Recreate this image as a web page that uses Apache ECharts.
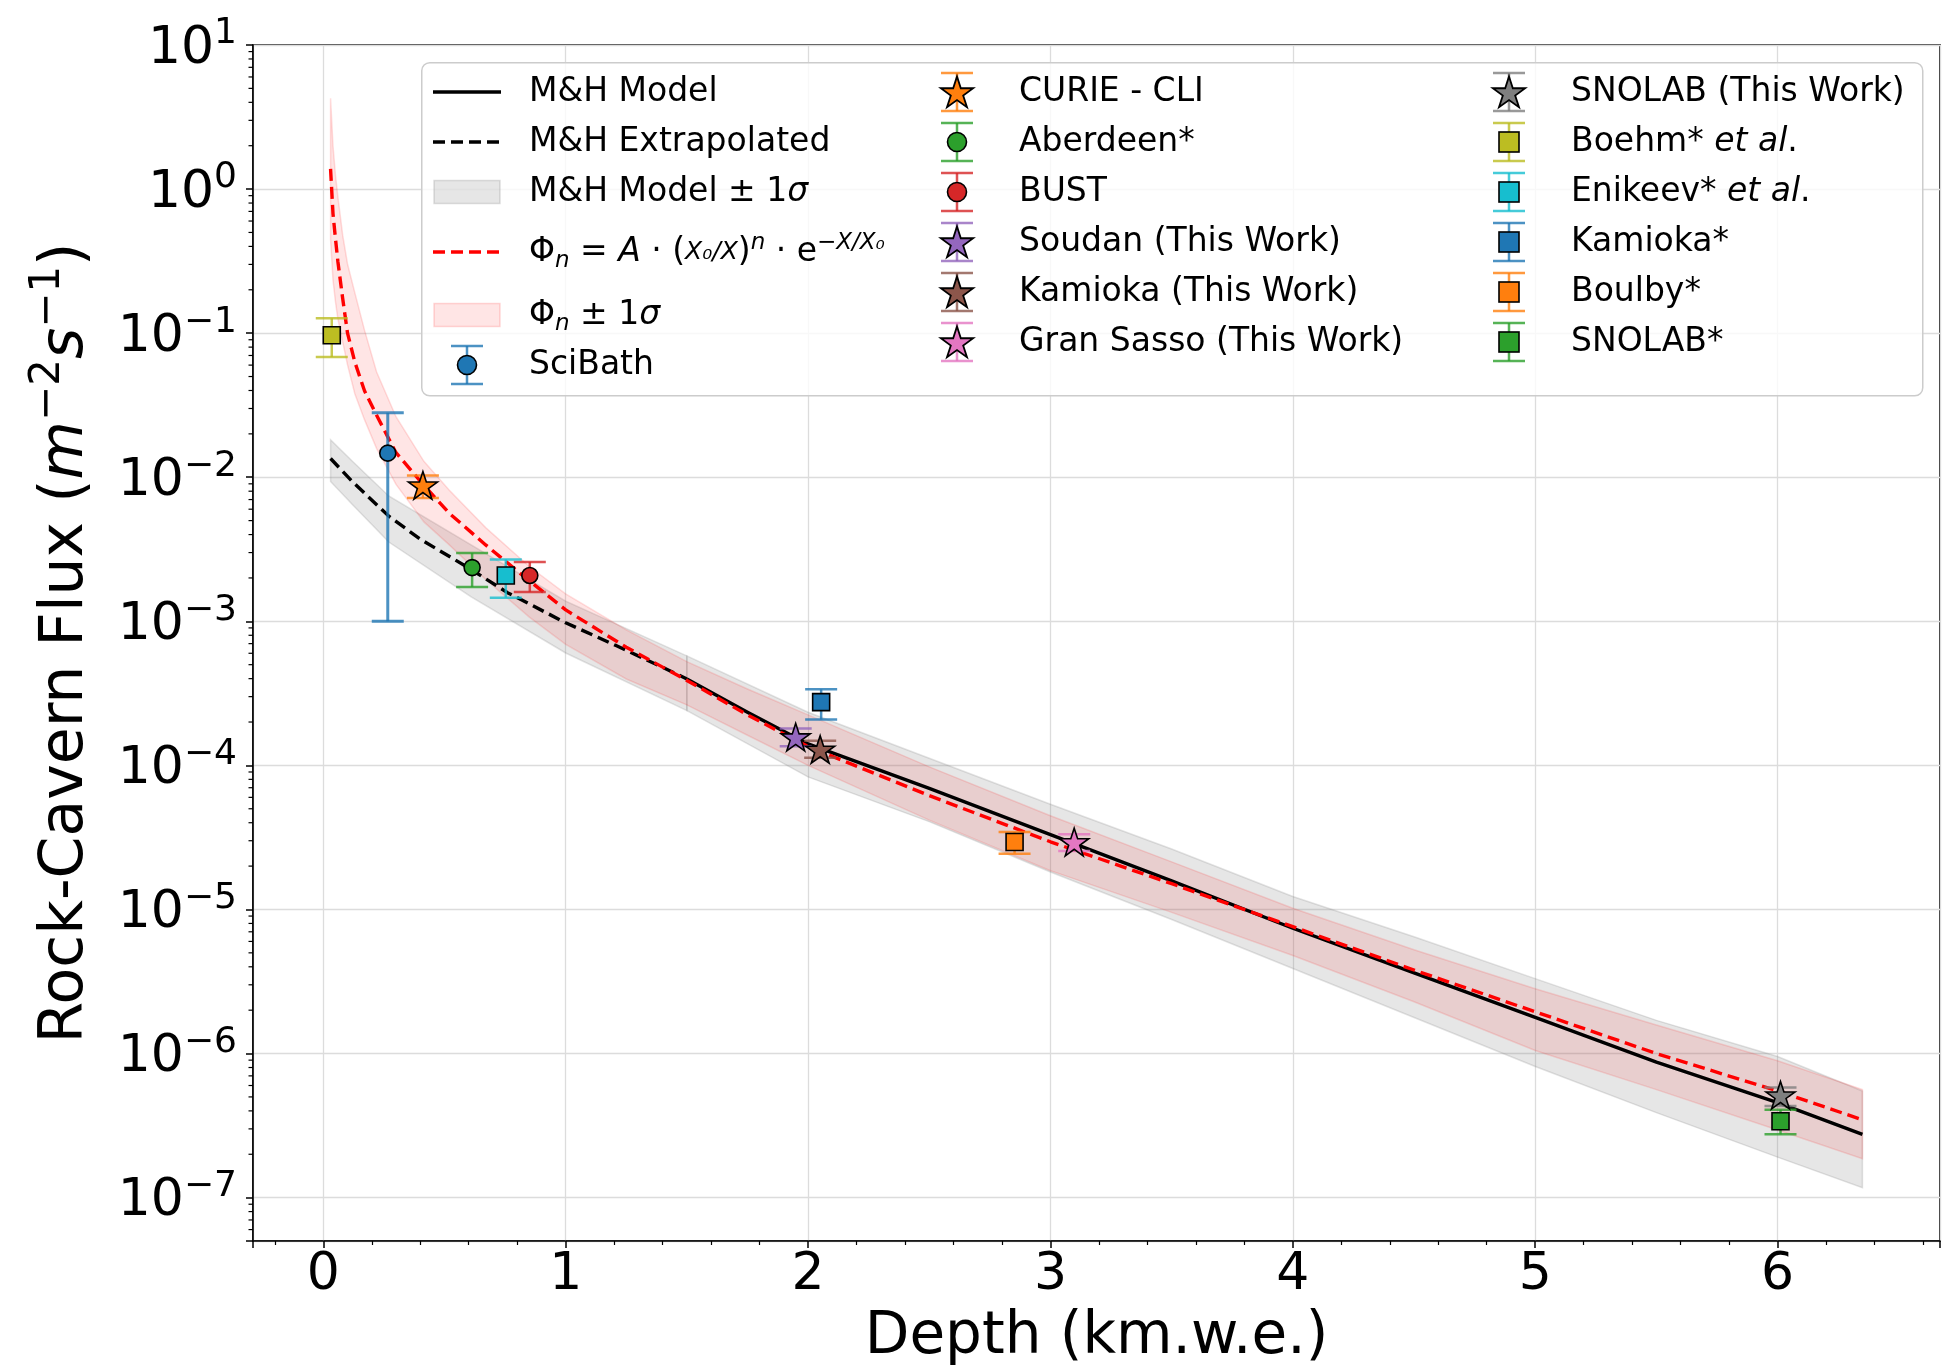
<!DOCTYPE html>
<html><head><meta charset="utf-8">
<script src="https://cdn.jsdelivr.net/npm/echarts/dist/echarts.min.js"></script>
<style>html,body{margin:0;padding:0;background:#fff}#chart{width:1942px;height:1369px}</style>
</head><body><div id="chart"></div>
<script>
// ---------------- data ----------------
const xTickLabels = ['0','1','2','3','4','5','6'];
const yTickExponents = [-7,-6,-5,-4,-3,-2,-1,0,1];

// M&H extrapolated (dashed), km.w.e. / m^-2 s^-1
const mhExtX = [0.03, 0.12, 0.27, 0.40, 0.61, 0.76, 1.00, 1.21, 1.40, 1.50];
const mhExtY = [1.349e-2, 9.33e-3, 5.37e-3, 3.72e-3, 2.29e-3, 1.58e-3, 9.77e-4, 6.76e-4, 4.79e-4, 3.98e-4];
// M&H model (solid)
const mhX = [1.50, 1.75, 2.00, 2.50, 3.00, 3.50, 4.00, 4.50, 5.00, 5.50, 6.00, 6.35];
const mhY = [3.98e-4, 2.34e-4, 1.41e-4, 6.92e-5, 3.31e-5, 1.58e-5, 7.41e-6, 3.63e-6, 1.78e-6, 8.71e-7, 4.57e-7, 2.75e-7];
// M&H +-1 sigma band, extrapolated part
const mhBandExtX = [0.03, 0.12, 0.27, 0.61, 1.00, 1.50];
const mhBandExtHi = [1.82e-2, 1.29e-2, 7.41e-3, 3.39e-3, 1.38e-3, 5.75e-4];
const mhBandExtLo = [9.33e-3, 6.46e-3, 3.55e-3, 1.48e-3, 6.03e-4, 2.40e-4];
// M&H +-1 sigma band, model part
const mhBandX = [1.50, 2.00, 2.50, 3.00, 3.50, 4.00, 4.50, 5.00, 5.50, 6.00, 6.35];
const mhBandHi = [5.75e-4, 2.34e-4, 1.12e-4, 5.37e-5, 2.63e-5, 1.23e-5, 6.46e-6, 3.31e-6, 1.70e-6, 9.55e-7, 5.50e-7];
const mhBandLo = [2.40e-4, 8.32e-5, 4.07e-5, 1.82e-5, 8.51e-6, 3.89e-6, 1.78e-6, 8.13e-7, 3.89e-7, 1.91e-7, 1.17e-7];
// Phi_n fit (red dashed) and its band
const phiX = [0.03, 0.04, 0.05, 0.06, 0.08, 0.10, 0.13, 0.17, 0.22, 0.30, 0.415, 0.52, 0.67, 0.85, 1.00, 1.25, 1.50, 1.75, 2.00, 2.50, 3.00, 3.50, 4.00, 4.50, 5.00, 5.50, 6.00, 6.35];
const phiY = [1.380, 0.676, 0.457, 0.316, 0.174, 0.100, 0.0631, 0.0398, 0.0269, 0.0148, 0.00879, 0.00562, 0.00339, 0.00191, 0.00120, 6.61e-4, 3.89e-4, 2.24e-4, 1.35e-4, 6.17e-5, 2.95e-5, 1.51e-5, 7.59e-6, 3.80e-6, 1.95e-6, 1.00e-6, 5.50e-7, 3.47e-7];
const phiHi = [4.27, 2.00, 1.26, 0.891, 0.479, 0.302, 0.191, 0.105, 0.0537, 0.0263, 0.0129, 0.00813, 0.00447, 0.00240, 0.00155, 8.71e-4, 5.25e-4, 3.39e-4, 2.24e-4, 9.77e-5, 4.47e-5, 2.14e-5, 1.02e-5, 5.25e-6, 2.82e-6, 1.58e-6, 8.91e-7, 5.62e-7];
const phiLo = [0.447, 0.234, 0.166, 0.126, 0.0871, 0.0603, 0.0380, 0.0251, 0.0158, 0.00891, 0.00490, 0.00339, 0.00195, 0.00107, 6.92e-4, 3.98e-4, 2.63e-4, 1.62e-4, 1.00e-4, 4.17e-5, 1.86e-5, 9.55e-6, 4.79e-6, 2.29e-6, 1.05e-6, 5.62e-7, 2.95e-7, 1.86e-7];

// measurements
const pointNames = ['SciBath','CURIE - CLI','Aberdeen*','BUST','Soudan (This Work)','Kamioka (This Work)','Gran Sasso (This Work)','SNOLAB (This Work)','Boehm* et al.','Enikeev* et al.','Kamioka*','Boulby*','SNOLAB*'];
const pointX    = [0.266, 0.411, 0.614, 0.852, 1.949, 2.050, 3.098, 6.012, 0.035, 0.753, 2.054, 2.852, 6.012];
const pointY    = [1.47e-2, 8.79e-3, 2.36e-3, 2.08e-3, 1.57e-4, 1.29e-4, 2.94e-5, 5.14e-7, 9.66e-2, 2.08e-3, 2.75e-4, 2.94e-5, 3.39e-7];
const pointLow  = [1.0e-3, 7.18e-3, 1.73e-3, 1.60e-3, 1.36e-4, 1.13e-4, 2.55e-5, 4.33e-7, 6.83e-2, 1.46e-3, 2.08e-4, 2.44e-5, 2.75e-7];
const pointHigh = [2.8e-2, 1.03e-2, 2.98e-3, 2.58e-3, 1.80e-4, 1.48e-4, 3.33e-5, 5.81e-7, 0.127, 2.69e-3, 3.37e-4, 3.45e-5, 4.08e-7];

// ---------------- styles ----------------
const X_MIN = -0.29, X_MAX = 6.67, Y_MIN = 5e-8, Y_MAX = 10;
const FONT = 'DejaVu Sans';
const pointStyle = {
  'SciBath': {c:'#1f77b4', m:'circle', lw:3},
  'CURIE - CLI': {c:'#ff7f0e', m:'star', lw:2.5},
  'Aberdeen*': {c:'#2ca02c', m:'circle', lw:2.5},
  'BUST': {c:'#d62728', m:'circle', lw:2.5},
  'Soudan (This Work)': {c:'#9467bd', m:'star', lw:2.5},
  'Kamioka (This Work)': {c:'#8c564b', m:'star', lw:2.5},
  'Gran Sasso (This Work)': {c:'#e377c2', m:'star', lw:2.5},
  'SNOLAB (This Work)': {c:'#7f7f7f', m:'star', lw:2.5},
  'Boehm* et al.': {c:'#bcbd22', m:'square', lw:2.5},
  'Enikeev* et al.': {c:'#17becf', m:'square', lw:2.5},
  'Kamioka*': {c:'#1f77b4', m:'square', lw:2.5},
  'Boulby*': {c:'#ff7f0e', m:'square', lw:2.5},
  'SNOLAB*': {c:'#2ca02c', m:'square', lw:2.5}
};
function rgba(hex, a){const n=parseInt(hex.slice(1),16);return 'rgba('+(n>>16)+','+((n>>8)&255)+','+(n&255)+','+a+')';}
function starPoints(cx, cy, R){const r=R*0.382;const p=[];for(let i=0;i<10;i++){const a=(-90+i*36)*Math.PI/180;const rr=i%2?r:R;p.push([cx+rr*Math.cos(a),cy+rr*Math.sin(a)]);}return p;}
const STAR_PATH = 'path://M' + starPoints(50,50,50).map(p=>p[0].toFixed(2)+','+p[1].toFixed(2)).join(' L') + ' Z';
const symbolOf = {star: STAR_PATH, circle: 'circle', square: 'rect'};
const sizeOf = {star: 29, circle: 16, square: 17};

function svgIcon(inner){return 'image://data:image/svg+xml;charset=utf-8,' + encodeURIComponent('<svg xmlns="http://www.w3.org/2000/svg" width="68" height="44" viewBox="0 0 68 44">' + inner + '</svg>');}
function markerSvg(m, c){
  if (m==='star') return '<polygon points="'+starPoints(34,23.5,17).map(p=>p[0].toFixed(2)+','+p[1].toFixed(2)).join(' ')+'" fill="'+c+'" stroke="#000" stroke-width="1.8" stroke-linejoin="miter"/>';
  if (m==='circle') return '<circle cx="34" cy="22" r="9.5" fill="'+c+'" stroke="#000" stroke-width="1.6"/>';
  return '<rect x="24" y="12" width="20" height="20" fill="'+c+'" stroke="#000" stroke-width="1.6"/>';
}
function errIcon(name){const s=pointStyle[name];const st='stroke="'+rgba(s.c,0.8)+'" stroke-width="2.5"';
  return svgIcon('<line x1="34" y1="3" x2="34" y2="41" '+st+'/><line x1="18" y1="3" x2="50" y2="3" '+st+'/><line x1="18" y1="41" x2="50" y2="41" '+st+'/>'+markerSvg(s.m,s.c));}
const ICON = {
  mh: svgIcon('<line x1="0" y1="22" x2="68" y2="22" stroke="#000" stroke-width="3.5"/>'),
  mhx: svgIcon('<line x1="0" y1="22" x2="68" y2="22" stroke="#000" stroke-width="3.5" stroke-dasharray="12 6"/>'),
  mhband: svgIcon('<rect x="1" y="10.5" width="66" height="23" fill="rgba(128,128,128,0.2)" stroke="rgba(128,128,128,0.25)" stroke-width="1.5"/>'),
  phi: svgIcon('<line x1="0" y1="22" x2="68" y2="22" stroke="#ff0000" stroke-width="3.5" stroke-dasharray="12 6"/>'),
  phiband: svgIcon('<rect x="1" y="10.5" width="66" height="23" fill="rgba(255,0,0,0.1)" stroke="rgba(255,0,0,0.15)" stroke-width="1.5"/>')
};
const legendText = {
  mh: '{n|M&H Model}',
  mhx: '{n|M&H Extrapolated}',
  mhband: '{n|M&H Model ± 1}{i|σ}',
  phi: '{n|Φ}{sub|n}{n| = }{i|A}{n| · (}{fr|X₀/X}{n|)}{supi|n}{n| · e}{supi|−X/X₀}',
  phiband: '{n|Φ}{sub|n}{n| ± 1}{i|σ}',
  'Boehm* et al.': '{n|Boehm* }{i|et al}{n|.}',
  'Enikeev* et al.': '{n|Enikeev* }{i|et al}{n|.}'
};

// ---------------- series ----------------
function bandSeries(name, xs, hi, lo, fill, stroke){
  return {type:'custom', name, z:1, silent:true, clip:true,
    data: xs.map((x,i)=>[x, hi[i], lo[i]]), encode:{x:0, y:[1,2]},
    renderItem:(params, api)=>{
      if (params.dataIndex !== 0) return null;
      const pts=[];
      for (let i=0;i<xs.length;i++) pts.push(api.coord([xs[i], hi[i]]));
      for (let i=xs.length-1;i>=0;i--) pts.push(api.coord([xs[i], lo[i]]));
      return {type:'polygon', shape:{points:pts}, style:{fill, stroke, lineWidth:1.5}};
    }};
}
function lineSeries(name, xs, ys, color, dashed, z){
  return {type:'line', name, z, silent:true, symbol:'none', showSymbol:false, smooth:false,
    data: xs.map((x,i)=>[x, ys[i]]),
    lineStyle:{color, width:3.4, type: dashed ? [12,6] : 'solid', cap:'butt', join:'round'}};
}
const series = [
  bandSeries('mhband', mhBandExtX, mhBandExtHi, mhBandExtLo, 'rgba(128,128,128,0.2)', 'rgba(128,128,128,0.22)'),
  bandSeries('mhband', mhBandX, mhBandHi, mhBandLo, 'rgba(128,128,128,0.2)', 'rgba(128,128,128,0.22)'),
  bandSeries('phiband', phiX, phiHi, phiLo, 'rgba(255,0,0,0.1)', 'rgba(255,0,0,0.13)'),
  lineSeries('mhx', mhExtX, mhExtY, '#000', true, 2),
  lineSeries('mh', mhX, mhY, '#000', false, 2),
  lineSeries('phi', phiX, phiY, '#ff0000', true, 2.5)
];
pointNames.forEach((name, i)=>{
  const s = pointStyle[name];
  series.push({type:'custom', name, z:3, silent:true,
    data:[[pointX[i], pointY[i], pointLow[i], pointHigh[i]]], encode:{x:0, y:[1,2,3]},
    renderItem:(params, api)=>{
      const lo = api.coord([api.value(0), api.value(2)]);
      const hi = api.coord([api.value(0), api.value(3)]);
      const hw = 16, st = {stroke: rgba(s.c, 0.8), lineWidth: s.lw};
      return {type:'group', children:[
        {type:'line', shape:{x1:lo[0], y1:lo[1], x2:hi[0], y2:hi[1]}, style:st},
        {type:'line', shape:{x1:lo[0]-hw, y1:lo[1], x2:lo[0]+hw, y2:lo[1]}, style:st},
        {type:'line', shape:{x1:hi[0]-hw, y1:hi[1], x2:hi[0]+hw, y2:hi[1]}, style:st}
      ]};
    }});
  series.push({type:'scatter', name, z:4, silent:true,
    data:[[pointX[i], pointY[i]]], symbol: symbolOf[s.m], symbolSize: sizeOf[s.m], symbolKeepAspect:true,
    itemStyle:{color:s.c, borderColor:'#000', borderWidth:1.6, opacity:1}});
});
// log minor ticks on the y axis
const yMinorTicks = [];
for (let n=-8;n<=0;n++) for (let k=2;k<=9;k++){const v=k*Math.pow(10,n); if (v>Y_MIN && v<Y_MAX) yMinorTicks.push(v);}
series.push({type:'custom', silent:true, clip:false, z:6, data: yMinorTicks.map(v=>[X_MIN, v]), encode:{x:0,y:1},
  renderItem:(p, api)=>{const c=api.coord([api.value(0), api.value(1)]);
    return {type:'line', shape:{x1:c[0]-4.5, y1:c[1], x2:c[0], y2:c[1]}, style:{stroke:'#000', lineWidth:1.2}};}});

// ---------------- legend ----------------
const legendRich = {
  n:{fontFamily:FONT, fontSize:33, lineHeight:44, color:'#000'},
  i:{fontFamily:FONT, fontSize:33, lineHeight:44, color:'#000', fontStyle:'italic'},
  sub:{fontFamily:FONT, fontSize:23, lineHeight:23, padding:[18,0,0,0], color:'#000', fontStyle:'italic'},
  supi:{fontFamily:FONT, fontSize:23, lineHeight:23, padding:[0,0,18,0], color:'#000', fontStyle:'italic'},
  fr:{fontFamily:FONT, fontSize:25, lineHeight:44, color:'#000', fontStyle:'italic'}
};
function legend(left, top, names){
  return {orient:'vertical', left, top, padding:0, itemGap:6, itemWidth:68, itemHeight:44, selectedMode:false, z:10,
    data: names.map(n=>({name:n, icon: ICON[n] || errIcon(n)})),
    formatter: n => legendText[n] || ('{n|' + n + '}'),
    textStyle:{fontFamily:FONT, fontSize:33, color:'#000', padding:[0,0,0,23], rich: legendRich}};
}

const option = {
  animation:false,
  backgroundColor:'#fff',
  grid:{left:253, right:2, top:45, bottom:128, show:true, borderColor:'#000', borderWidth:1.6, backgroundColor:'transparent', containLabel:false, outerBoundsMode:'none'},
  xAxis:{type:'value', min:X_MIN, max:X_MAX, splitNumber:7,
    name:'Depth (km.w.e.)', nameLocation:'middle', nameGap:68,
    nameTextStyle:{fontFamily:FONT, fontSize:58, lineHeight:58, color:'#000'},
    axisLine:{show:true, onZero:false, lineStyle:{color:'#000', width:1.6}},
    axisTick:{show:true, inside:false, length:7, lineStyle:{color:'#000', width:1.5}},
    minorTick:{show:true, splitNumber:5, length:4, lineStyle:{color:'#000', width:1.2}},
    splitLine:{show:true, lineStyle:{color:'#dcdcdc', width:1.3}},
    axisLabel:{margin:8, fontFamily:FONT, fontSize:52, lineHeight:52, color:'#000',
      formatter: v => { const r=Math.round(v); return (Math.abs(v-r)<1e-6 && r>=0 && r<xTickLabels.length) ? xTickLabels[r] : ''; }}
  },
  yAxis:{type:'log', logBase:10, min:Y_MIN, max:Y_MAX, splitNumber:8,
    name:'{n|Rock-Cavern Flux (}{i|m}{s|−2}{i|s}{s|−1}{n|)}', nameLocation:'middle', nameGap:146,
    nameTextStyle:{fontFamily:FONT, fontSize:60, color:'#000', rich:{
      n:{fontFamily:FONT, fontSize:60, lineHeight:60, color:'#000'},
      i:{fontFamily:FONT, fontSize:60, lineHeight:60, color:'#000', fontStyle:'italic'},
      s:{fontFamily:FONT, fontSize:42, lineHeight:42, padding:[0,0,38,0], color:'#000'}}},
    axisLine:{show:true, onZero:false, lineStyle:{color:'#000', width:1.6}},
    axisTick:{show:true, inside:false, length:7, lineStyle:{color:'#000', width:1.5}},
    minorTick:{show:false},
    splitLine:{show:true, lineStyle:{color:'#dcdcdc', width:1.3}},
    axisLabel:{margin:16, fontFamily:FONT, fontSize:52, color:'#000',
      formatter: v => { const e=Math.log10(v), r=Math.round(e);
        if (Math.abs(e-r)>1e-6 || yTickExponents.indexOf(r)<0) return '';
        return '{b|10}{e|' + (r<0 ? '\u2212'+(-r) : String(r)) + '}'; },
      rich:{
        b:{fontFamily:FONT, fontSize:52, lineHeight:52, padding:[8,0,0,0], color:'#000'},
        e:{fontFamily:FONT, fontSize:36, lineHeight:36, padding:[0,0,22,0], color:'#000'}}}
  },
  legend:[
    legend(433, 70, ['mh','mhx','mhband']),
    legend(433, 230, ['phi']),
    legend(433, 293, ['phiband','SciBath']),
    legend(923, 70, ['CURIE - CLI','Aberdeen*','BUST','Soudan (This Work)','Kamioka (This Work)','Gran Sasso (This Work)']),
    legend(1475, 70, ['SNOLAB (This Work)','Boehm* et al.','Enikeev* et al.','Kamioka*','Boulby*','SNOLAB*'])
  ],
  graphic:[{type:'rect', left:421, top:62, z:5, silent:true, shape:{width:1501, height:333, r:8},
    style:{fill:'rgba(255,255,255,0.8)', stroke:'#cccccc', lineWidth:1.5}}],
  series
};
const chart = echarts.init(document.getElementById('chart'), null, {renderer:'canvas'});
chart.setOption(option);
</script>
</body></html>
